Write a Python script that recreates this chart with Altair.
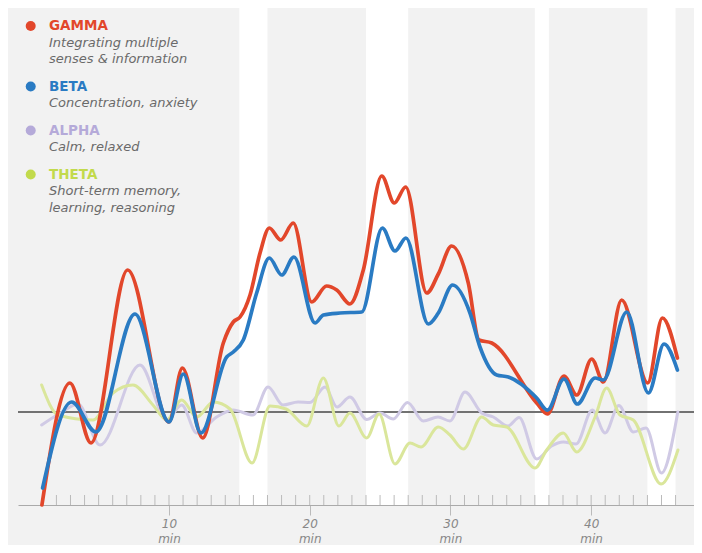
import altair as alt
import pandas as pd

# ---- data (minutes, relative power) ----
gamma_min = [0.97, 2.96, 4.46, 7.06, 10.0, 10.95, 12.4, 13.86, 14.57, 15.05, 15.76, 16.47, 17.13, 17.94, 18.83,
             20.14, 21.2, 21.92, 22.86, 23.81, 25.12, 26.01, 26.82, 28.32, 29.14, 30.09, 31.27, 32.03, 32.94,
             36.13, 36.89, 38.07, 38.98, 40.04, 40.87, 42.17, 44.02, 45.06, 46.13]
gamma_val = [-93, 29, -31, 142, -10, 44, -26, 69, 90, 95, 117, 159, 184, 172, 189,
             110, 126, 122, 108, 142, 236, 209, 225, 119, 138, 166, 129, 72, 69,
             9, -2, 36, 17, 53, 30, 112, 29, 94, 54]

beta_min = [1.02, 3.08, 4.81, 7.58, 10.0, 11.02, 12.27, 14.1, 14.57, 15.28, 16.23, 17.13, 18.01, 18.88,
            20.38, 20.97, 22.15, 23.7, 25.16, 26.06, 26.84, 28.43, 29.14, 30.16, 31.39, 32.1, 33.29, 34.12,
            36.13, 36.89, 38.07, 39.02, 40.28, 40.87, 42.53, 44.07, 45.18, 46.13]
beta_val = [-76, 10, -20, 98, -10, 38, -21, 55, 60, 72, 119, 154, 137, 155,
            89, 97, 99, 100, 184, 161, 174, 88, 99, 127, 99, 65, 37, 35,
            14, 2, 33, 8, 34, 32, 100, 19, 68, 42]

alpha_min = [0.95, 2.4, 3.53, 5.1, 7.94, 9.84, 10.9, 11.97, 13.39, 14.55, 15.97, 17.04, 18.1, 19.17, 20.02,
             21.09, 21.94, 22.86, 24.05, 24.99, 25.94, 26.95, 28.07, 29.12, 29.97, 31.04, 32.22, 33.05,
             34.09, 34.88, 36.13, 37.19, 38.02, 38.93, 40.08, 40.99, 41.97, 43.0, 43.9, 45.0, 46.16]
alpha_val = [-13, 0, 8, -33, 47, -8, 7, -21, -5, 2, -3, 25, 7, 10, 9.5,
             25, 5, 15, -7.5, -1, -7, 9.5, -9, -5, -9, 20, -1, -5,
             -14, -5.5, -47, -34, -30, -32, 2, -21, 6.5, -20, -16, -61, 0]

theta_min = [0.95, 2.11, 4.6, 6.02, 7.44, 8.86, 9.84, 10.9, 11.97, 13.15, 14.34, 15.9, 17.18, 18.32, 19.79,
             20.97, 22.08, 22.86, 24.05, 24.93, 26.06, 27.13, 27.91, 29.14, 29.97, 30.92, 32.22, 33.05,
             34.0, 36.01, 36.84, 38.02, 38.98, 40.28, 41.1, 42.05, 43.0, 44.97, 46.17]
theta_val = [27, -3, -8, 19, 27, 7, -8, 12, -5, 10, 3, -51, 6, 3, -14,
             34, -14, -1, -26, -2, -52, -31, -35, -15, -23, -37, -5, -13,
             -15, -56, -38, -21, -40, -5, 24, -3, -8, -72, -38]

# highlighted (white) periods, minutes
band_start = [15, 24, 36, 44]
band_end = [17, 27, 37, 46]

minor_ticks = list(range(2, 47))
major_ticks = [10, 20, 30, 40]

# legend
names = ["GAMMA", "BETA", "ALPHA", "THETA"]
descriptions = [["Integrating multiple", "senses & information"],
                ["Concentration, anxiety"],
                ["Calm, relaxed"],
                ["Short-term memory,", "learning, reasoning"]]
legend_colors = ["#e2472b", "#2a7bc3", "#b5aad9", "#c2da4c"]
line_colors = ["#e2472b", "#2a7bc3", "#d0cae5", "#dae69b"]

FONT = "DejaVu Sans"

# ---- build tables ----
rows = []
for name, ms, vs in [("GAMMA", gamma_min, gamma_val), ("BETA", beta_min, beta_val),
                     ("ALPHA", alpha_min, alpha_val), ("THETA", theta_min, theta_val)]:
    for m, v in zip(ms, vs):
        rows.append({"series": name, "m": m, "v": v})
df = pd.DataFrame(rows)

bands = pd.DataFrame({"start": band_start, "end": band_end})
ticks = pd.DataFrame({"m": minor_ticks})

leg_title_rows, leg_desc_rows = [], []
y = 18.0
for name, desc, col in zip(names, descriptions, legend_colors):
    leg_title_rows.append({"name": name, "py": y, "color": col})
    for j, line in enumerate(desc):
        leg_desc_rows.append({"text": line, "py": y + 16.7 + 16.5 * j})
    y += 27.5 + 16.5 * len(desc)
leg_titles = pd.DataFrame(leg_title_rows)
leg_desc = pd.DataFrame(leg_desc_rows)

W, H = 676, 497
xs = alt.Scale(domain=[-0.73, 47.31], nice=False, zero=False)
ys = alt.Scale(domain=[-93, 404], nice=False, zero=False)

xaxis = alt.Axis(values=major_ticks, title=None, grid=False, domainColor="#aaaaaa", domainWidth=1,
                 tickColor="#bbbbbb", tickSize=10, tickWidth=1,
                 labelExpr="[datum.label, 'min']", labelFont=FONT, labelFontStyle="italic",
                 labelFontSize=12, labelColor="#888888", labelLineHeight=15, labelPadding=3)

band_layer = alt.Chart(bands).mark_rect(color="#ffffff").encode(
    x=alt.X("start:Q", scale=xs, axis=xaxis),
    x2="end:Q",
    y=alt.value(0), y2=alt.value(H),
)

tick_layer = alt.Chart(ticks).mark_rule(color="#bbbbbb", strokeWidth=1).encode(
    x=alt.X("m:Q", scale=xs, axis=xaxis),
    y=alt.value(H - 10), y2=alt.value(H),
)

zero_layer = alt.Chart(ticks).mark_rule(color="#727272", strokeWidth=1).encode(
    y=alt.datum(0, scale=ys, axis=None),
)


def series_layer(name, color, width):
    return alt.Chart(df).transform_filter(alt.datum.series == name).mark_line(
        interpolate="monotone", color=color, strokeWidth=width, strokeCap="round", strokeJoin="round"
    ).encode(
        x=alt.X("m:Q", scale=xs, axis=xaxis),
        y=alt.Y("v:Q", scale=ys, axis=None),
    )


alpha_layer = series_layer("ALPHA", line_colors[2], 3)
theta_layer = series_layer("THETA", line_colors[3], 3)
gamma_layer = series_layer("GAMMA", line_colors[0], 3.7)
beta_layer = series_layer("BETA", line_colors[1], 3.7)

dots = alt.Chart(leg_titles).mark_circle(size=100, opacity=1).encode(
    x=alt.value(12.7),
    y=alt.Y("py:Q", scale=None),
    color=alt.Color("color:N", scale=None),
)
titles = alt.Chart(leg_titles).mark_text(align="left", baseline="middle", font=FONT,
                                         fontWeight="bold", fontSize=13.5).encode(
    x=alt.value(31),
    y=alt.Y("py:Q", scale=None),
    text="name:N",
    color=alt.Color("color:N", scale=None),
)
descs = alt.Chart(leg_desc).mark_text(align="left", baseline="middle", font=FONT,
                                      fontStyle="italic", fontSize=13, color="#6a6a6a").encode(
    x=alt.value(31),
    y=alt.Y("py:Q", scale=None),
    text="text:N",
)

chart = alt.layer(
    band_layer, tick_layer, zero_layer, alpha_layer, theta_layer, gamma_layer, beta_layer,
    dots, titles, descs
).properties(
    width=W, height=H,
    padding={"left": 10, "top": 0, "right": 0, "bottom": 40},
    autosize=alt.AutoSizeParams(type="none"),
).configure(background="#f2f2f2").configure_view(stroke=None)

chart.save("out.html", embed_options={"renderer": "svg", "actions": False})
